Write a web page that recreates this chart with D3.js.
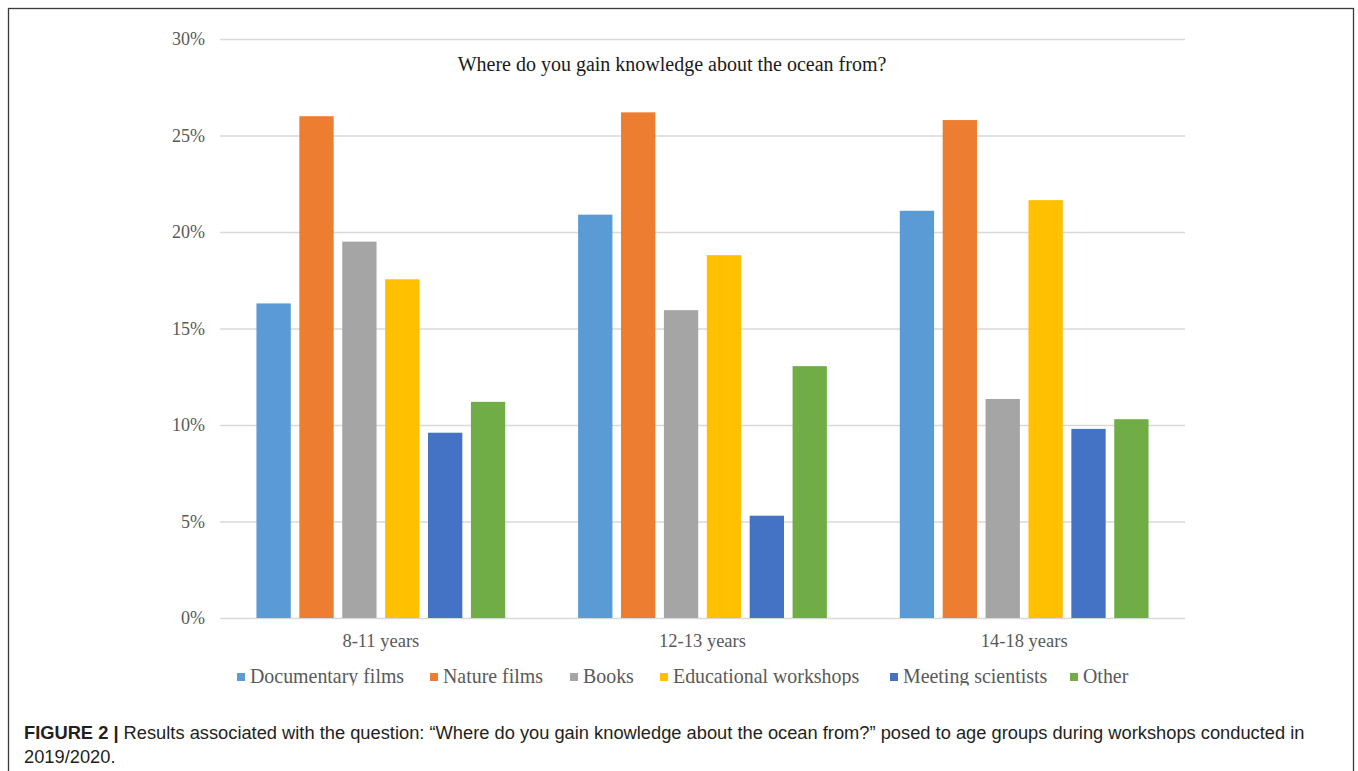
<!DOCTYPE html>
<html>
<head>
<meta charset="utf-8">
<script src="https://cdn.jsdelivr.net/npm/d3@7"></script>
<style>
  html, body { margin: 0; padding: 0; background: #fff; }
  svg { display: block; }
</style>
</head>
<body>
<svg id="chart" width="1358" height="771"></svg>
<script>
// Survey answers by age group (share of responses, %)
const groups = ["8-11 years", "12-13 years", "14-18 years"];
const sources = ["Documentary films", "Nature films", "Books", "Educational workshops", "Meeting scientists", "Other"];
const documentaryFilms = [16.3, 20.9, 21.1];
const natureFilms = [26.0, 26.2, 25.8];
const books = [19.5, 15.95, 11.35];
const educationalWorkshops = [17.55, 18.8, 21.65];
const meetingScientists = [9.6, 5.3, 9.8];
const other = [11.2, 13.05, 10.3];
const yTicks = [0, 5, 10, 15, 20, 25, 30];
const colors = ["#5B9BD5", "#ED7D31", "#A5A5A5", "#FFC000", "#4472C4", "#70AD47"];

const seriesValues = [documentaryFilms, natureFilms, books, educationalWorkshops, meetingScientists, other];
const rows = groups.map((g, gi) => ({
  group: g,
  values: sources.map((s, si) => ({ source: s, value: seriesValues[si][gi] }))
}));

const svg = d3.select("#chart");
const serif = "'Liberation Serif', 'Times New Roman', serif";
const textColor = "#595959";

// Frame around the figure
svg.append("rect")
  .attr("x", 8.5).attr("y", 8.5)
  .attr("width", 1345).attr("height", 800)
  .attr("fill", "none").attr("stroke", "#3a3a3a").attr("stroke-width", 1.3);

const plot = { left: 220, right: 1185, top: 39, bottom: 618 };

const x0 = d3.scaleBand().domain(groups).range([plot.left, plot.right])
  .paddingInner(0.2).paddingOuter(0.1);
const x1 = d3.scaleBand().domain(sources).range([0, x0.bandwidth()])
  .paddingInner(0.2).paddingOuter(0.1);
const y = d3.scaleLinear().domain([0, 30]).range([plot.bottom, plot.top]);

// Horizontal gridlines and percentage labels
const yAxis = d3.axisLeft(y).tickValues(yTicks).tickFormat(d => d + "%")
  .tickSize(-(plot.right - plot.left)).tickPadding(15);
const gy = svg.append("g").attr("transform", `translate(${plot.left},0)`).call(yAxis);
gy.select(".domain").remove();
gy.selectAll(".tick line").attr("stroke", "#D9D9D9").attr("stroke-width", 1.3);
gy.selectAll(".tick text").attr("fill", textColor)
  .style("font-family", serif).style("font-size", "18px");

// Title inside the plot area
svg.append("text")
  .attr("x", 672).attr("y", 71)
  .attr("text-anchor", "middle")
  .style("font-family", serif).style("font-size", "20px")
  .attr("fill", "#1a1a1a")
  .text("Where do you gain knowledge about the ocean from?");

// Grouped bars
const gGroups = svg.append("g").selectAll("g").data(rows).join("g")
  .attr("transform", d => `translate(${x0(d.group)},0)`);
gGroups.selectAll("rect").data(d => d.values).join("rect")
  .attr("x", d => x1(d.source))
  .attr("y", d => y(d.value))
  .attr("width", x1.bandwidth())
  .attr("height", d => y(0) - y(d.value))
  .attr("fill", (d, i) => colors[i]);

// Category labels
const xAxis = d3.axisBottom(x0).tickSize(0).tickPadding(16);
const gx = svg.append("g").attr("transform", `translate(0,${plot.bottom})`).call(xAxis);
gx.select(".domain").remove();
gx.selectAll(".tick text").attr("fill", textColor)
  .style("font-family", serif).style("font-size", "18.5px");

// Legend (bottom edge is cut off by the chart frame)
svg.append("defs").append("clipPath").attr("id", "legendClip")
  .append("rect").attr("x", 200).attr("y", 660).attr("width", 1000).attr("height", 25.5);
const legendX = [237, 430, 570, 660, 890, 1070];
const legend = svg.append("g").attr("clip-path", "url(#legendClip)")
  .selectAll("g").data(sources).join("g")
  .attr("transform", (d, i) => `translate(${legendX[i]},0)`);
legend.append("rect").attr("x", 0).attr("y", 673).attr("width", 8).attr("height", 8)
  .attr("fill", (d, i) => colors[i]);
legend.append("text").attr("x", 13).attr("y", 683)
  .style("font-family", serif).style("font-size", "19.9px")
  .attr("fill", textColor)
  .text(d => d);

// Figure caption
const sans = "'Liberation Sans', Arial, Helvetica, sans-serif";
const cap = svg.append("text").attr("x", 24).attr("y", 739)
  .style("font-family", sans).style("font-size", "18.3px").attr("fill", "#231f20");
cap.append("tspan").attr("font-weight", "bold").text("FIGURE 2 | ");
cap.append("tspan").text("Results associated with the question: \u201CWhere do you gain knowledge about the ocean from?\u201D posed to age groups during workshops conducted in");
svg.append("text").attr("x", 24).attr("y", 763)
  .style("font-family", sans).style("font-size", "18.3px").attr("fill", "#231f20")
  .text("2019/2020.");
</script>
</body>
</html>
